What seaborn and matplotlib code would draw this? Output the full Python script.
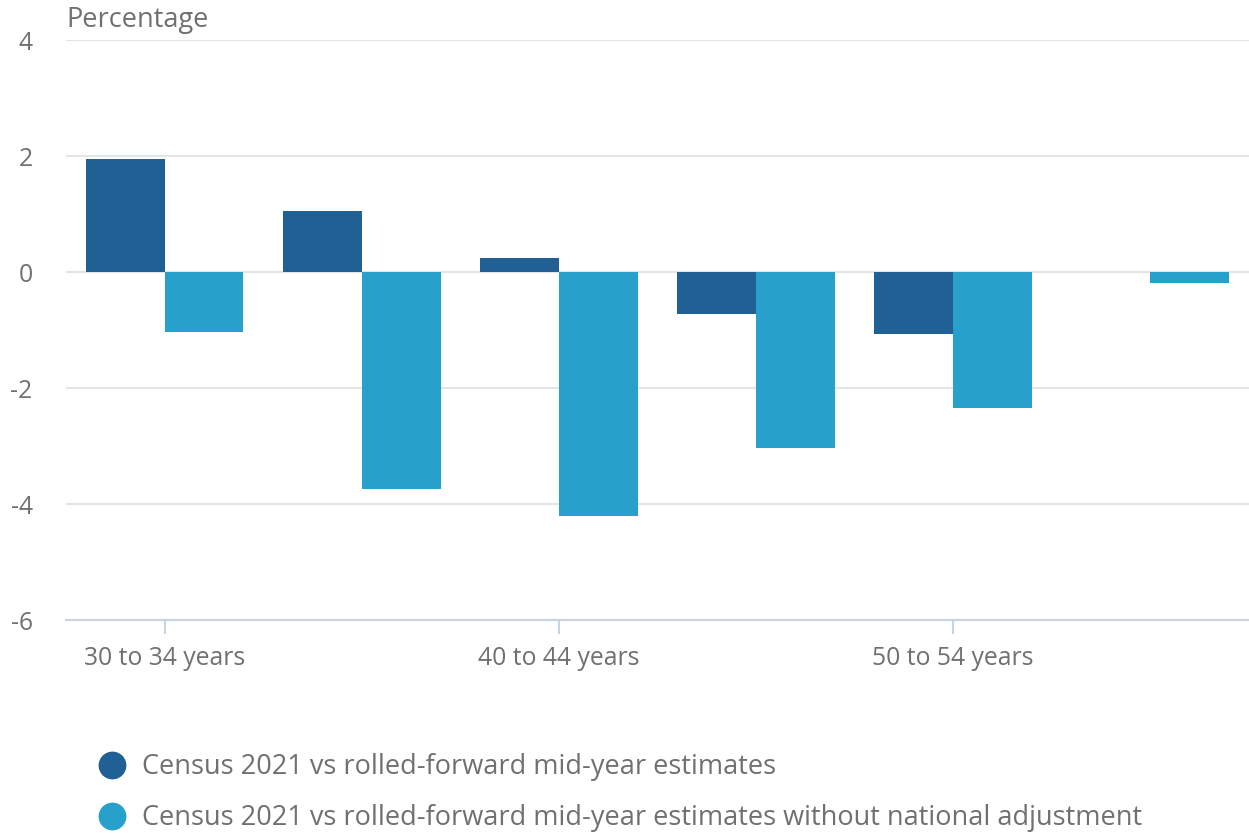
import pandas as pd
import numpy as np
import matplotlib.pyplot as plt
import seaborn as sns
from matplotlib.lines import Line2D

# Data
age_groups = ['30 to 34 years', '35 to 39 years', '40 to 44 years',
              '45 to 49 years', '50 to 54 years', '55 to 59 years']
rolled_forward = [1.95, 1.05, 0.24, -0.72, -1.07, 0.0]
without_adjustment = [-1.03, -3.74, -4.2, -3.03, -2.34, -0.19]
series_names = ['Census 2021 vs rolled-forward mid-year estimates',
                'Census 2021 vs rolled-forward mid-year estimates without national adjustment']
colours = ['#206095', '#27a0cc']

df = pd.DataFrame({
    'age': age_groups * 2,
    'value': rolled_forward + without_adjustment,
    'series': [series_names[0]] * 6 + [series_names[1]] * 6,
})

sns.set_style('white')
plt.rcParams['font.family'] = ['Open Sans', 'DejaVu Sans']
text_col = '#707070'
fs = 17.8
fs_big = 19.5

fig = plt.figure(figsize=(12.49, 8.34), dpi=100)
ax = fig.add_axes([66 / 1249, 1 - 620 / 834, 1 - 66 / 1249, (620 - 40) / 834])

sns.barplot(data=df, x='age', y='value', hue='series', palette=colours,
            width=0.8, saturation=1, ax=ax, legend=False, linewidth=0)

ax.set_ylim(-6, 4)
ax.set_xlim(-0.5, 5.5)
ax.set_yticks([-6, -4, -2, 0, 2, 4])
ax.set_yticklabels(['-6', '-4', '-2', '0', '2', '4'])
ax.yaxis.grid(True, color='#e5e5e5', linewidth=1.5)
ax.set_axisbelow(True)
ax.tick_params(axis='y', length=0, labelsize=fs, labelcolor=text_col, pad=24)

ax.set_xticks([0, 2, 4])
ax.set_xticklabels([age_groups[0], age_groups[2], age_groups[4]])
ax.tick_params(axis='x', bottom=True, length=10, width=1.5, color='#c8d3e6',
               labelsize=fs, labelcolor=text_col, pad=9)

for side in ['top', 'right', 'left']:
    ax.spines[side].set_visible(False)
ax.spines['bottom'].set_color('#c8d3e6')
ax.spines['bottom'].set_linewidth(1.5)

ax.set_xlabel('')
ax.set_ylabel('')
fig.text(66 / 1249, 1 - 20 / 834, 'Percentage', fontsize=fs_big, color=text_col,
         va='center', ha='left')

handles = [Line2D([0], [0], marker='o', linestyle='', markersize=19,
                  markerfacecolor=c, markeredgecolor=c) for c in colours]
fig.legend(handles, series_names, loc='upper left',
           bbox_to_anchor=(92 / 1249, 1 - 753 / 834), frameon=False,
           fontsize=fs_big, labelcolor=text_col, handletextpad=0.35,
           handlelength=1.5, labelspacing=0.85, borderpad=0, borderaxespad=0)

fig.savefig('out.png', dpi=100)
